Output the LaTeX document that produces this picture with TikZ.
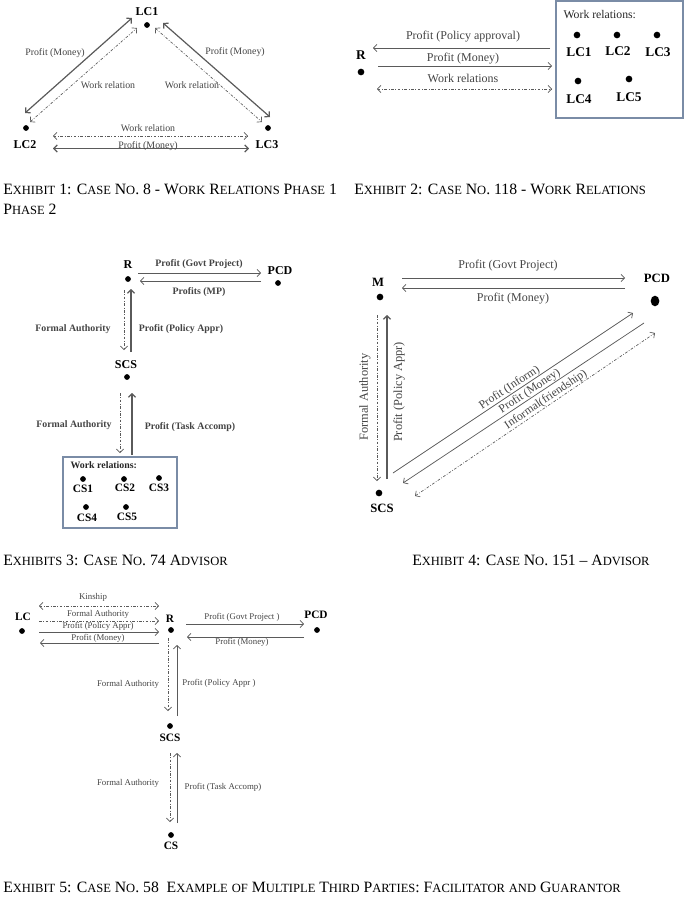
\documentclass[tikz,border=0pt]{standalone}
\usepackage{fontspec}
\setmainfont{Liberation Serif}
\usetikzlibrary{arrows.meta,shapes.geometric}
\definecolor{lgray}{HTML}{5A5A5A}
\definecolor{tgray}{HTML}{444444}
\definecolor{boxc}{HTML}{7A8CA6}
\newcommand\capfont{\fontsize{11.8pt}{13.5pt}\selectfont}
\newcommand\SC[2]{#1{\fontsize{9.4pt}{10pt}\selectfont #2}}
\newcommand\SCa[1]{{\fontsize{9.4pt}{10pt}\selectfont #1}}
\begin{document}
\begin{tikzpicture}[x=0.75pt,y=-0.75pt,
  pdot/.style={circle,fill=black,inner sep=0pt,minimum size=#1},
  pdot/.default=4.3pt,
  ln/.style={draw=lgray,line width=0.55pt},
  lnk/.style={draw=lgray,line width=0.9pt},
  dl/.style={draw=lgray,line width=0.5pt,dash pattern=on 2pt off 1.2pt on 0.6pt off 1.2pt},
  ar/.style={-{Straight Barb[length=2.6pt,width=5.4pt]}},
  al/.style={{Straight Barb[length=2.6pt,width=5.4pt]}-},
  ab/.style={{Straight Barb[length=2.6pt,width=5.4pt]}-{Straight Barb[length=2.6pt,width=5.4pt]}},
  lab/.style={inner sep=1pt,text=tgray,font=\fontsize{#1}{#1}\selectfont},
  nm/.style={inner sep=0pt,font=\bfseries\fontsize{#1}{#1}\selectfont},
  capt/.style={inner sep=0pt,anchor=base west,font=\capfont}
]
\useasboundingbox (0,0) rectangle (685,900);

% ================= Exhibit 1 =================
\node[nm=9pt] (e1lc1) at (147,12) {LC1};
\node[pdot] (e1d1) at (147,25) {};
\node[pdot] (e1d2) at (26,128) {};
\node[nm=9pt] (e1lc2) at (25,145) {LC2};
\node[pdot] (e1d3) at (268,128) {};
\node[nm=9pt] (e1lc3) at (267,145) {LC3};
\coordinate (e1a1) at (25,113); \coordinate (e1a2) at (132,18);
\coordinate (e1b1) at (30,122); \coordinate (e1b2) at (137,28);
\coordinate (e1c1) at (163,23); \coordinate (e1c2) at (270,117);
\coordinate (e1e1) at (155,28); \coordinate (e1e2) at (262,122);
\coordinate (e1f1) at (53,136); \coordinate (e1f2) at (248,136);
\coordinate (e1g1) at (53,148.5); \coordinate (e1g2) at (249,148.5);
\draw[lnk,ab] (e1a1) -- (e1a2);
\draw[dl,ab] (e1b1) -- (e1b2);
\draw[lnk,ab] (e1c1) -- (e1c2);
\draw[dl,ab] (e1e1) -- (e1e2);
\draw[dl,ab] (e1f1) -- (e1f2);
\draw[lnk,ab] (e1g1) -- (e1g2);
\node[lab=7.4pt] (e1t1) at (55,53) {Profit (Money)};
\node[lab=7.4pt] (e1t2) at (108,85) {Work relation};
\node[lab=7.4pt] (e1t3) at (235,52) {Profit (Money)};
\node[lab=7.4pt] (e1t4) at (192,85) {Work relation};
\node[lab=7.4pt] (e1t5) at (148,128) {Work relation};
\node[lab=7.4pt,anchor=base,inner sep=0pt] (e1t6) at (148,148) {Profit (Money)};

% ================= Exhibit 2 =================
\node[draw=boxc,line width=0.8pt,minimum width=127*0.75pt,minimum height=117*0.75pt,inner sep=0pt] (e2box) at (619.5,59.5) {};
\node[lab=8.8pt,anchor=west,text=black!85] (e2wr) at (562,15) {Work relations:};
\node[pdot=5pt] (e2d1) at (577,35) {};
\node[nm=10pt] (e2l1) at (579,52) {LC1};
\node[pdot=5pt] (e2d2) at (617,35) {};
\node[nm=10pt] (e2l2) at (618,51) {LC2};
\node[pdot=5pt] (e2d3) at (657,35) {};
\node[nm=10pt] (e2l3) at (658,52) {LC3};
\node[pdot=5pt] (e2d4) at (578,81) {};
\node[nm=10pt] (e2l4) at (579,99) {LC4};
\node[pdot=5pt] (e2d5) at (629,79) {};
\node[nm=10pt] (e2l5) at (629,97) {LC5};
\node[nm=10pt] (e2r) at (361,55) {R};
\node[pdot=5pt] (e2dr) at (361,72) {};
\coordinate (e2a1) at (550,48); \coordinate (e2a2) at (373,48);
\coordinate (e2b1) at (378,66); \coordinate (e2b2) at (552,66);
\coordinate (e2c1) at (377,89); \coordinate (e2c2) at (552,89);
\draw[ln,ar] (e2a1) -- (e2a2);
\draw[ln,ar] (e2b1) -- (e2b2);
\draw[dl,ab] (e2c1) -- (e2c2);
\node[lab=9pt] (e2t1) at (463,37) {Profit (Policy approval)};
\node[lab=9pt] (e2t2) at (463,59) {Profit (Money)};
\node[lab=9pt] (e2t3) at (463,78) {Work relations};

% captions 1 & 2
\node[capt] (c1) at (3,194) {\SC{E}{XHIBIT} 1: \SC{C}{ASE} \SC{N}{O}. 8 - \SC{W}{ORK} \SC{R}{ELATIONS} \SC{P}{HASE} 1};
\node[capt] (c2) at (354,194) {\SC{E}{XHIBIT} 2: \SC{C}{ASE} \SC{N}{O}. 118 - \SC{W}{ORK} \SC{R}{ELATIONS}};
\node[capt] (c2b) at (3,214) {\SC{P}{HASE} 2};

% ================= Exhibit 3 =================
\node[nm=9pt] (e3r) at (128,265) {R};
\node[pdot] (e3dr) at (128,279) {};
\node[nm=9pt] (e3pcd) at (280,271) {PCD};
\node[pdot] (e3dp) at (278,283) {};
\coordinate (e3a1) at (138,273); \coordinate (e3a2) at (261,273);
\coordinate (e3b1) at (261,281); \coordinate (e3b2) at (140,281);
\draw[ln,ar] (e3a1) -- (e3a2);
\draw[ln,ar] (e3b1) -- (e3b2);
\node[lab=7.4pt,font=\bfseries\fontsize{7.4pt}{8pt}\selectfont] (e3t1) at (199,264) {Profit (Govt Project)};
\node[lab=7.4pt,font=\bfseries\fontsize{7.4pt}{8pt}\selectfont] (e3t2) at (199,292) {Profits (MP)};
\coordinate (e3c1) at (124,290); \coordinate (e3c2) at (124,350);
\coordinate (e3e1) at (131,352); \coordinate (e3e2) at (131,289);
\draw[dl,ar] (e3c1) -- (e3c2);
\draw[lnk,ar] (e3e1) -- (e3e2);
\node[lab=7.4pt,font=\bfseries\fontsize{7.4pt}{8pt}\selectfont] (e3t3) at (73,329) {Formal Authority};
\node[lab=7.4pt,font=\bfseries\fontsize{7.4pt}{8pt}\selectfont] (e3t4) at (181,329) {Profit (Policy Appr)};
\node[nm=9pt] (e3scs) at (126,365) {SCS};
\node[pdot] (e3ds) at (127,377) {};
\coordinate (e3f1) at (120,393); \coordinate (e3f2) at (120,453);
\coordinate (e3g1) at (132,455); \coordinate (e3g2) at (132,393);
\draw[dl,ar] (e3f1) -- (e3f2);
\draw[lnk,ar] (e3g1) -- (e3g2);
\node[lab=7.4pt,font=\bfseries\fontsize{7.4pt}{8pt}\selectfont] (e3t5) at (74,425) {Formal Authority};
\node[lab=7.4pt,font=\bfseries\fontsize{7.4pt}{8pt}\selectfont] (e3t6) at (190,427) {Profit (Task Accomp)};
\node[draw=boxc,line width=0.8pt,minimum width=114*0.75pt,minimum height=71*0.75pt,inner sep=0pt] (e3box) at (120,492.5) {};
\node[lab=7.4pt,anchor=west,text=black!85,font=\bfseries\fontsize{7.4pt}{8pt}\selectfont] (e3wr) at (69,465) {Work relations:};
\node[pdot] (e3d1) at (83,479) {};
\node[nm=8.5pt] (e3l1) at (83,489) {CS1};
\node[pdot] (e3d2) at (124,479) {};
\node[nm=8.5pt] (e3l2) at (125,488) {CS2};
\node[pdot] (e3d3) at (159,478) {};
\node[nm=8.5pt] (e3l3) at (159,488) {CS3};
\node[pdot] (e3d4) at (86,507) {};
\node[nm=8.5pt] (e3l4) at (87,518) {CS4};
\node[pdot] (e3d5) at (126,507) {};
\node[nm=8.5pt] (e3l5) at (127,517) {CS5};

% ================= Exhibit 4 =================
\node[nm=9.5pt] (e4m) at (378,282) {M};
\node[pdot=5pt] (e4dm) at (380,297) {};
\node[nm=9.5pt] (e4pcd) at (657,278) {PCD};
\node[ellipse,fill=black,inner sep=0pt,minimum width=6.5pt,minimum height=8pt] (e4dp) at (655,301) {};
\node[pdot=5pt] (e4ds) at (379,493) {};
\node[nm=9.5pt] (e4scs) at (382,508) {SCS};
\coordinate (e4a1) at (402,278); \coordinate (e4a2) at (625,278);
\coordinate (e4b1) at (625,288); \coordinate (e4b2) at (402,288);
\draw[ln,ar] (e4a1) -- (e4a2);
\draw[ln,ar] (e4b1) -- (e4b2);
\node[lab=9pt] (e4t1) at (508,266) {Profit (Govt Project)};
\node[lab=9pt] (e4t2) at (513,299) {Profit (Money)};
\coordinate (e4c1) at (377,315); \coordinate (e4c2) at (377,481);
\coordinate (e4e1) at (387,479); \coordinate (e4e2) at (387,315);
\draw[dl,ar] (e4c1) -- (e4c2);
\draw[lnk,ar] (e4e1) -- (e4e2);
\node[lab=9.3pt,rotate=90] (e4t3) at (365,397) {Formal Authority};
\node[lab=9.3pt,rotate=90] (e4t4) at (399,392) {Profit (Policy Appr)};
\coordinate (e4f1) at (393,473); \coordinate (e4f2) at (633,313);
\coordinate (e4g1) at (403,483); \coordinate (e4g2) at (644,323);
\coordinate (e4h1) at (415,496); \coordinate (e4h2) at (655,333);
\draw[ln,ar] (e4f1) -- node[lab=8.8pt,sloped,above,pos=0.5,inner sep=0.3pt] (e4t5) {Profit (Inform)} (e4f2);
\draw[ln,al] (e4g1) -- node[lab=8.8pt,sloped,above,pos=0.54,inner sep=0.3pt] (e4t6) {Profit (Money)} (e4g2);
\draw[dl,ab] (e4h1) -- node[lab=8.8pt,sloped,above,pos=0.56,inner sep=0.3pt] (e4t7) {Informal(friendship)} (e4h2);

% captions 3 & 4
\node[capt] (c3) at (3,565) {\SC{E}{XHIBITS} 3: \SC{C}{ASE} \SC{N}{O}. 74 \SC{A}{DVISOR}};
\node[capt] (c4) at (412,565) {\SC{E}{XHIBIT} 4: \SC{C}{ASE} \SC{N}{O}. 151 -- \SC{A}{DVISOR}};

% ================= Exhibit 5 =================
\node[nm=8.5pt] (e5lc) at (23,617) {LC};
\node[pdot] (e5dlc) at (22,631) {};
\node[nm=8.5pt] (e5r) at (170,619) {R};
\node[pdot] (e5dr) at (171,630) {};
\node[nm=8.5pt] (e5pcd) at (316,615) {PCD};
\node[pdot] (e5dp) at (317,630) {};
\coordinate (e5a1) at (39,606); \coordinate (e5a2) at (159,606);
\coordinate (e5b1) at (39,621); \coordinate (e5b2) at (159,621);
\coordinate (e5c1) at (39,632); \coordinate (e5c2) at (159,632);
\coordinate (e5e1) at (159,643); \coordinate (e5e2) at (40,643);
\draw[dl,ab] (e5a1) -- (e5a2);
\draw[dl,ar] (e5b1) -- (e5b2);
\draw[ln,ar] (e5c1) -- (e5c2);
\draw[ln,ar] (e5e1) -- (e5e2);
\node[lab=6.6pt] (e5t1) at (93,597) {Kinship};
\node[lab=6.6pt] (e5t2) at (98,614) {Formal Authority};
\node[lab=6.6pt] (e5t3) at (98,626.5) {Profit (Policy Appr)};
\node[lab=6.6pt] (e5t4) at (98,638.5) {Profit (Money)};
\coordinate (e5f1) at (186,624); \coordinate (e5f2) at (304,624);
\coordinate (e5g1) at (304,637); \coordinate (e5g2) at (187,637);
\draw[ln,ar] (e5f1) -- (e5f2);
\draw[ln,ar] (e5g1) -- (e5g2);
\node[lab=6.6pt] (e5t5) at (242,617) {Profit (Govt Project )};
\node[lab=6.6pt] (e5t6) at (242,642.5) {Profit (Money)};
\coordinate (e5h1) at (168,638); \coordinate (e5h2) at (168,711);
\coordinate (e5k1) at (177,716); \coordinate (e5k2) at (177,645);
\draw[dl,ar] (e5h1) -- (e5h2);
\draw[ln,ar] (e5k1) -- (e5k2);
\node[lab=6.6pt] (e5t7) at (128,684) {Formal Authority};
\node[lab=6.6pt] (e5t8) at (219,683) {Profit (Policy Appr )};
\node[pdot] (e5ds) at (170,726) {};
\node[nm=8.5pt] (e5scs) at (170,738) {SCS};
\coordinate (e5m1) at (170,753); \coordinate (e5m2) at (170,822);
\coordinate (e5n1) at (177,823); \coordinate (e5n2) at (177,753);
\draw[dl,ar] (e5m1) -- (e5m2);
\draw[ln,ar] (e5n1) -- (e5n2);
\node[lab=6.6pt] (e5t9) at (128,783) {Formal Authority};
\node[lab=6.6pt] (e5t10) at (223,787) {Profit (Task Accomp)};
\node[pdot] (e5dc) at (171,835) {};
\node[nm=8.5pt] (e5cs) at (171,846) {CS};

% caption 5
\node[capt] (c5) at (3,892) {\SC{E}{XHIBIT} 5: \SC{C}{ASE} \SC{N}{O}. 58\ \ \SC{E}{XAMPLE} \SCa{OF} \SC{M}{ULTIPLE} \SC{T}{HIRD} \SC{P}{ARTIES}: \SC{F}{ACILITATOR} \SCa{AND} \SC{G}{UARANTOR}};
\end{tikzpicture}
\end{document}
